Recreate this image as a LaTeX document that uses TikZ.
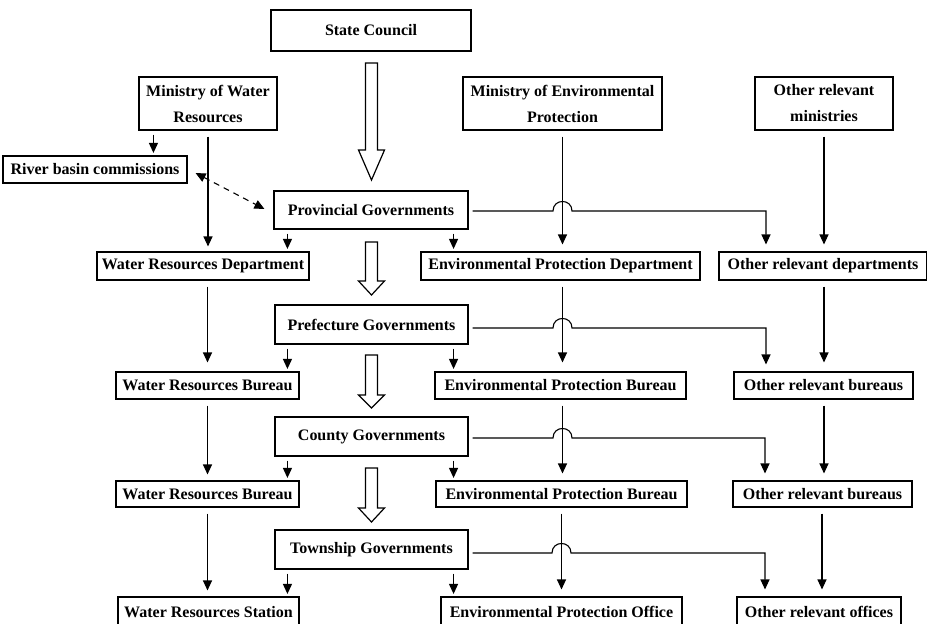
\documentclass[tikz,border=0pt]{standalone}
\usepackage{fontspec}
\setmainfont{Liberation Serif}
\usetikzlibrary{arrows.meta,calc}
\begin{document}
\begin{tikzpicture}[x=1pt,y=-1pt,
  box/.style 2 args={draw, line width=1.1pt, inner sep=0pt, align=center,
    minimum width=#1pt, minimum height=#2pt,
    font=\fontsize{16}{26}\selectfont\bfseries},
  arr/.style={line width=1.1pt, -{Triangle[width=9pt,length=10pt]},
    shorten <=6pt, shorten >=6pt},
  sarr/.style={line width=1.1pt, -{Triangle[width=9pt,length=10pt]},
    shorten <=4pt, shorten >=2.5pt},
  harr/.style={line width=1.1pt, -{Triangle[width=9pt,length=10pt]},
    shorten <=4pt, shorten >=7pt},
  dasharr/.style={line width=1.1pt, dash pattern=on 6pt off 5pt,
    {Triangle[width=9pt,length=10pt]}-{Triangle[width=9pt,length=10pt]}},
  hollowarr/.style={draw, line width=1.2pt, fill=white, line join=miter}
]
\useasboundingbox (0,0) rectangle (927,624);

% boxes
\node[box={200}{41}] (sc) at (371,30.5) {State Council};
\node[box={138}{53}] (mwr) at (208,103.5) {Ministry of Water\\Resources};
\node[box={199}{53}] (mep) at (562.5,103.5) {Ministry of Environmental\\Protection};
\node[box={138}{53}] (orm) at (824,103.5) {Other relevant\\ministries};
\node[box={184}{27}] (rbc) at (95,169.5) {River basin commissions};
\node[box={194}{38}] (prov) at (371,210) {Provincial Governments};
\node[box={212}{28}] (wrd) at (203,266) {Water Resources Department};
\node[box={279}{28}] (epd) at (560.5,266) {Environmental Protection Department};
\node[box={208}{28}] (ord) at (823,266) {Other relevant departments};
\node[box={193}{39}] (pref) at (371.5,324.5) {Prefecture Governments};
\node[box={183}{27}] (wrb1) at (207.5,385.5) {Water Resources Bureau};
\node[box={251}{27}] (epb1) at (560.5,385.5) {Environmental Protection Bureau};
\node[box={179}{27}] (orb1) at (823.5,385.5) {Other relevant bureaus};
\node[box={193}{39}] (county) at (371.5,436.5) {County Governments};
\node[box={183}{26}] (wrb2) at (207.5,494) {Water Resources Bureau};
\node[box={251}{26}] (epb2) at (561.5,494) {Environmental Protection Bureau};
\node[box={179}{26}] (orb2) at (822.5,494) {Other relevant bureaus};
\node[box={193}{39}] (town) at (371.5,549.5) {Township Governments};
\node[box={181}{30}] (wrs) at (208.5,612) {Water Resources Station};
\node[box={241}{30}] (epo) at (561.5,612) {Environmental Protection Office};
\node[box={164}{30}] (oro) at (819,612) {Other relevant offices};

% hollow arrows
\newcommand\HollowArrow[3]{%
  \draw[hollowarr] (365.5,#1) -- (377.5,#1) -- (377.5,#2) -- (384.5,#2)
    -- (371.5,#3) -- (358.5,#2) -- (365.5,#2) -- cycle;}
\HollowArrow{63}{150}{180}
\HollowArrow{242}{281}{295}
\HollowArrow{355}{395}{408}
\HollowArrow{468}{508}{522}

% ministries
\coordinate (m1) at ([xshift=15pt]mwr.south west);
\draw[sarr] (m1) -- (m1 |- rbc.north);
\draw[arr, shorten >=5pt] (mwr.south) -- (mwr.south |- wrd.north);
\draw[arr, shorten >=7pt] (mep.south) -- (mep.south |- epd.north);
\draw[arr, shorten >=7pt] (orm.south) -- (orm.south |- ord.north);
\draw[dasharr] ($(rbc.east)+(8,3.5)$) -- ($(prov.west)+(-9,-1)$);

% vertical chains
\draw[arr, shorten >=9pt] (wrb1.north |- wrd.south) -- (wrb1.north);
\draw[arr, shorten >=9pt] (mep.south |- epd.south) -- (mep.south |- epb1.north);
\draw[arr, shorten >=9pt] (orm.south |- ord.south) -- (orm.south |- orb1.north);
\draw[arr, shorten >=6pt] (wrb1.south) -- (wrb2.north);
\draw[arr, shorten >=7pt] (mep.south |- epb1.south) -- (mep.south |- epb2.north);
\draw[arr, shorten >=7pt] (orm.south |- orb1.south) -- (orm.south |- orb2.north);
\draw[arr, shorten >=6pt] (wrb2.south) -- (wrb2.south |- wrs.north);
\draw[arr, shorten >=7pt] ([xshift=-1pt]mep.south |- epb2.south) -- ([xshift=-1pt]mep.south |- epo.north);
\draw[arr, shorten >=7pt] ([xshift=-2pt]orm.south |- orb2.south) -- ([xshift=-2pt]orm.south |- oro.north);

% small arrows from governments
\coordinate (p1) at ([xshift=14pt]prov.south west);
\coordinate (p2) at ([xshift=-15pt]prov.south east);
\draw[sarr] (p1) -- (p1 |- wrd.north);
\draw[sarr] (p2) -- (p2 |- epd.north);
\coordinate (q1) at ([xshift=13pt]pref.south west);
\coordinate (q2) at ([xshift=-15pt]pref.south east);
\draw[sarr] (q1) -- (q1 |- wrb1.north);
\draw[sarr] (q2) -- (q2 |- epb1.north);
\coordinate (r1) at ([xshift=13pt]county.south west);
\coordinate (r2) at ([xshift=-15pt]county.south east);
\draw[sarr] (r1) -- (r1 |- wrb2.north);
\draw[sarr] (r2) -- (r2 |- epb2.north);
\coordinate (s1) at ([xshift=13pt]town.south west);
\coordinate (s2) at ([xshift=-15pt]town.south east);
\draw[sarr] (s1) -- (s1 |- wrs.north);
\draw[sarr] (s2) -- (s2 |- epo.north);

% horizontal lines with bridges
\newcommand\BridgeLine[4]{% #1 gov node, #2 yshift, #3 x of vertical, #4 target coordinate
  \coordinate (bs) at ([yshift=#2]#1.east);
  \coordinate (bj) at (#3 |- bs);
  \draw[harr] (bs) -- ([xshift=-9.5pt]bj)
    .. controls ([xshift=-9.5pt,yshift=12.7pt]bj) and ([xshift=9.5pt,yshift=12.7pt]bj) ..
    ([xshift=9.5pt]bj) -| (#4);}
\coordinate (v1) at (mep.south |- prov.east);
\coordinate (t1) at ([xshift=-57pt]ord.north);
\BridgeLine{prov}{-1pt}{v1}{t1}
\coordinate (v2) at (mep.south |- pref.east);
\coordinate (t2) at ([xshift=-57.5pt]orb1.north);
\draw[white] (t2); 
\BridgeLine{pref}{-3.5pt}{v2}{t2}
\coordinate (v3) at (mep.south |- county.east);
\coordinate (t3) at ([xshift=-57.5pt]orb2.north);
\BridgeLine{county}{-1.5pt}{v3}{t3}
\coordinate (v4) at ([xshift=-1pt]mep.south |- town.east);
\coordinate (t4) at ([xshift=-54pt]oro.north);
\BridgeLine{town}{-3.5pt}{v4}{t4}
\end{tikzpicture}
\end{document}
